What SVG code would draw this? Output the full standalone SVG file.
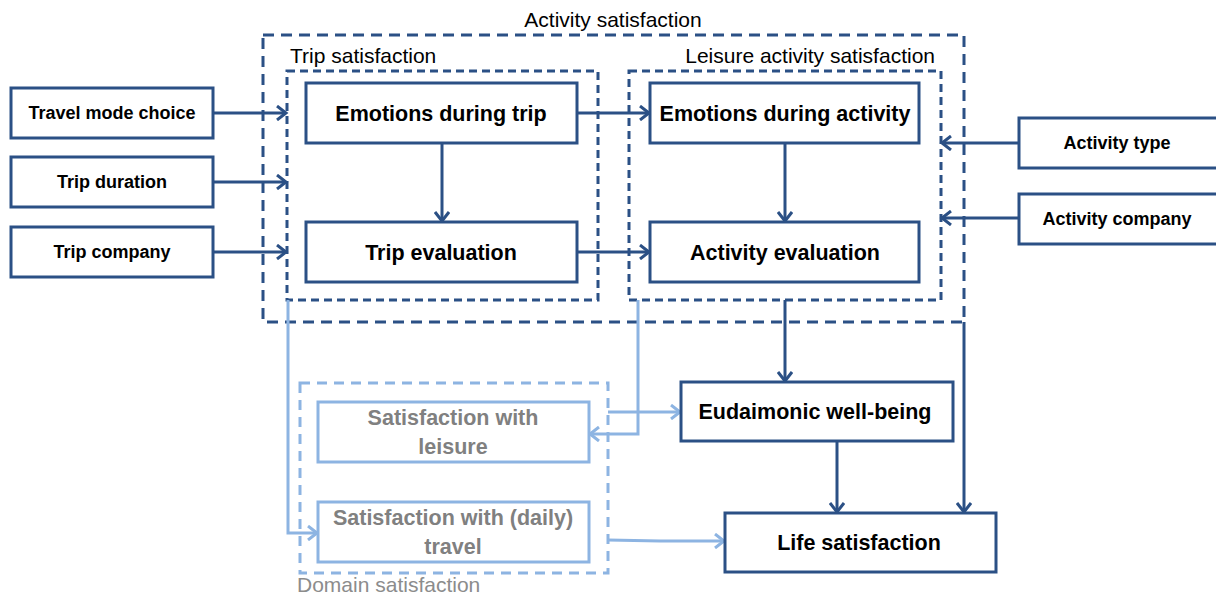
<svg xmlns="http://www.w3.org/2000/svg" width="1216" height="596" viewBox="0 0 1216 596">
<style>
.node{fill:#fff;stroke:#2B5085;stroke-width:3}
.lnode{fill:#fff;stroke:#8DB4E2;stroke-width:3}
.grp{fill:none;stroke:#2B5085;stroke-width:3;stroke-dasharray:11 7}
.igrp{fill:none;stroke:#2B5085;stroke-width:3;stroke-dasharray:8 5}
.lgrp{fill:none;stroke:#8DB4E2;stroke-width:3;stroke-dasharray:10 7}
.c{fill:none;stroke:#2B5085;stroke-width:3}
.lc{fill:none;stroke:#8DB4E2;stroke-width:3}
text{font-family:"Liberation Sans",Arial,sans-serif;text-anchor:middle}
.b16{font-size:18px;font-weight:bold;fill:#000}
.b19{font-size:21.5px;font-weight:bold;fill:#000}
.g19{font-size:21.5px;font-weight:bold;fill:#808080}
.lbl{font-size:21px;fill:#000}
</style>
<defs>
<marker id="a" markerWidth="14" markerHeight="16" refX="11" refY="8" orient="auto" markerUnits="userSpaceOnUse">
<path d="M2,1 L11,8 L2,15" fill="none" stroke="#2B5085" stroke-width="3"/>
</marker>
<marker id="la" markerWidth="14" markerHeight="16" refX="11" refY="8" orient="auto" markerUnits="userSpaceOnUse">
<path d="M2,1 L11,8 L2,15" fill="none" stroke="#8DB4E2" stroke-width="3"/>
</marker>
</defs>

<g id="groups">
<rect class="grp" x="263" y="35" width="701" height="287"/>
<text class="lbl" x="613" y="27">Activity satisfaction</text>
<rect class="igrp" x="287" y="71" width="311" height="229"/>
<text class="lbl" x="290" y="63" style="text-anchor:start">Trip satisfaction</text>
<rect class="igrp" x="629" y="71" width="312" height="229"/>
<text class="lbl" x="935" y="63" style="text-anchor:end">Leisure activity satisfaction</text>
<rect class="lgrp" x="300" y="383" width="308" height="190"/>
<text class="lbl" x="297" y="592" style="text-anchor:start;fill:#8C8C8C">Domain satisfaction</text>
</g>

<g id="connectors">
<line class="c" x1="213" y1="113" x2="286" y2="113" marker-end="url(#a)"/>
<line class="c" x1="213" y1="182" x2="286" y2="182" marker-end="url(#a)"/>
<line class="c" x1="213" y1="252" x2="286" y2="252" marker-end="url(#a)"/>
<line class="c" x1="577" y1="113" x2="649" y2="113" marker-end="url(#a)"/>
<line class="c" x1="577" y1="252" x2="649" y2="252" marker-end="url(#a)"/>
<line class="c" x1="442" y1="143" x2="442" y2="221" marker-end="url(#a)"/>
<line class="c" x1="785" y1="143" x2="785" y2="221" marker-end="url(#a)"/>
<line class="c" x1="1019" y1="143" x2="942" y2="143" marker-end="url(#a)"/>
<line class="c" x1="1019" y1="218" x2="942" y2="218" marker-end="url(#a)"/>
<line class="c" x1="785" y1="300" x2="785" y2="381" marker-end="url(#a)"/>
<line class="c" x1="964" y1="322" x2="964" y2="512" marker-end="url(#a)"/>
<line class="c" x1="837" y1="441" x2="837" y2="512" marker-end="url(#a)"/>
<polyline class="lc" points="288,300 288,533 317,533" marker-end="url(#la)"/>
<polyline class="lc" points="638,300 638,434 590,434" marker-end="url(#la)"/>
<line class="lc" x1="608" y1="412" x2="680" y2="412" marker-end="url(#la)"/>
<polyline class="lc" points="608,540 660,541 724,541" marker-end="url(#la)"/>
</g>

<g id="travel-mode-choice"><rect class="node" x="11" y="88" width="202" height="50"/><text class="b16" x="112" y="119">Travel mode choice</text></g>
<g id="trip-duration"><rect class="node" x="11" y="157" width="202" height="50"/><text class="b16" x="112" y="188">Trip duration</text></g>
<g id="trip-company"><rect class="node" x="11" y="227" width="202" height="50"/><text class="b16" x="112" y="258">Trip company</text></g>
<g id="emotions-trip"><rect class="node" x="306" y="83" width="271" height="60"/><text class="b19" x="441" y="121">Emotions during trip</text></g>
<g id="trip-evaluation"><rect class="node" x="306" y="222" width="271" height="60"/><text class="b19" x="441" y="260">Trip evaluation</text></g>
<g id="emotions-activity"><rect class="node" x="650" y="83" width="269" height="60"/><text class="b19" x="785" y="121">Emotions during activity</text></g>
<g id="activity-evaluation"><rect class="node" x="650" y="222" width="269" height="60"/><text class="b19" x="785" y="260">Activity evaluation</text></g>
<g id="activity-type"><rect class="node" x="1019" y="118" width="205" height="50"/><text class="b16" x="1117" y="149">Activity type</text></g>
<g id="activity-company"><rect class="node" x="1019" y="194" width="205" height="50"/><text class="b16" x="1117" y="225">Activity company</text></g>
<g id="eudaimonic"><rect class="node" x="681" y="382" width="272" height="59"/><text class="b19" x="815" y="419">Eudaimonic well-being</text></g>
<g id="life-satisfaction"><rect class="node" x="725" y="513" width="271" height="59"/><text class="b19" x="859" y="550">Life satisfaction</text></g>
<g id="sat-leisure"><rect class="lnode" x="318" y="402" width="271" height="60"/><text class="g19" x="453" y="425">Satisfaction with</text><text class="g19" x="453" y="454">leisure</text></g>
<g id="sat-travel"><rect class="lnode" x="318" y="502" width="271" height="60"/><text class="g19" x="453" y="525">Satisfaction with (daily)</text><text class="g19" x="453" y="554">travel</text></g>
</svg>
